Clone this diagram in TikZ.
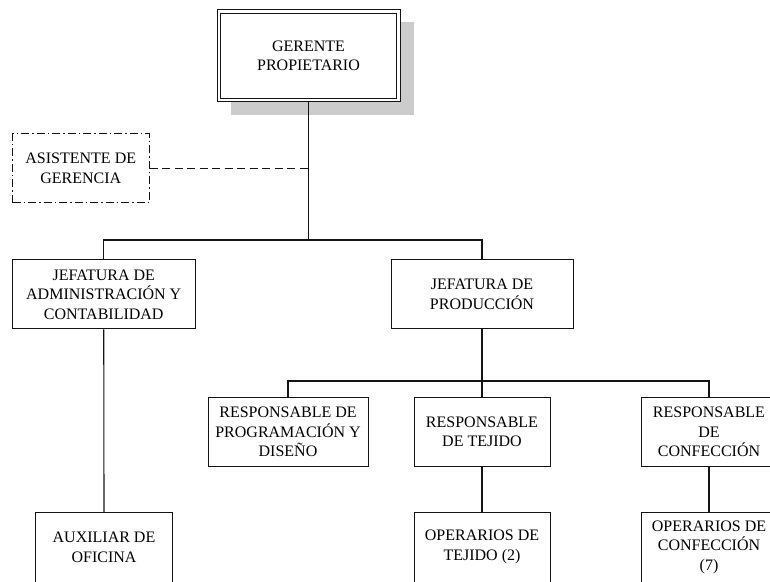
\documentclass[tikz,border=0pt]{standalone}
\usepackage{fontspec}
\setmainfont{Liberation Serif}
\definecolor{shadowgray}{RGB}{204,204,204}
\definecolor{linegray}{RGB}{20,20,20}
\begin{document}
\begin{tikzpicture}[x=1pt,y=1pt,
  orgbox/.style={draw=linegray,line width=1pt,fill=white,inner sep=0pt,
    align=center,font=\fontsize{16}{19.5}\selectfont},
  link/.style={draw=linegray,line width=1.1pt},
  dashlink/.style={draw=linegray,line width=1.1pt,dash pattern=on 8pt off 4.5pt},
  dashdotbox/.style={orgbox,dash pattern=on 8pt off 3pt on 1.5pt off 3pt}]
\useasboundingbox (0,0) rectangle (770,581);
\clip (0,0) rectangle (770,581);

% top box with drop shadow and double frame
\fill[shadowgray] (231,466) rectangle (414,559);
\node[orgbox,minimum width=183pt,minimum height=92pt] (ger) at (308.5,525)
  {GERENTE\\PROPIETARIO};
\draw[linegray,line width=1pt] ([shift={(3.6,-3.6)}]ger.north west)
  rectangle ([shift={(-3.6,3.6)}]ger.south east);

% staff position
\node[dashdotbox,minimum width=136.5pt,minimum height=69pt] (asis) at (80.75,412.5)
  {ASISTENTE DE\\GERENCIA};

% department heads
\node[orgbox,minimum width=182.5pt,minimum height=69pt] (jadm) at (103.75,286.5)
  {JEFATURA DE\\ADMINISTRACIÓN Y\\CONTABILIDAD};
\node[orgbox,minimum width=182pt,minimum height=69pt] (jprod) at (482,286.5)
  {JEFATURA DE\\PRODUCCIÓN};

% production area heads
\node[orgbox,minimum width=160pt,minimum height=68pt] (rprog) at (288,149)
  {RESPONSABLE DE\\PROGRAMACIÓN Y\\DISEÑO};
\node[orgbox,minimum width=136pt,minimum height=68pt] (rtej) at (482,149)
  {RESPONSABLE\\DE TEJIDO};
\node[orgbox,minimum width=135pt,minimum height=68pt] (rconf) at (709,149)
  {RESPONSABLE\\DE\\CONFECCIÓN};

% staff level
\node[orgbox,minimum width=137pt,minimum height=70pt] (aux) at (104,33.5)
  {AUXILIAR DE\\OFICINA};
\node[orgbox,minimum width=136pt,minimum height=70pt] (otej) at (482,34)
  {OPERARIOS DE\\TEJIDO (2)};
\node[orgbox,minimum width=135pt,minimum height=70pt] (oconf) at (709,34)
  {OPERARIOS DE\\CONFECCIÓN\\(7)};

% connectors
\coordinate (bar1) at (308.5,341);
\coordinate (bar2) at (482,200);
\path[link] (ger.south) -- (bar1);
\path[link] (jadm.north) |- (bar1) -| (jprod.north);
\path[dashlink] (asis.east) -- (asis.east -| bar1);
\path[link] (jadm.south) -- (aux.north);
\path[link] (jprod.south) -- (rtej.north);
\path[link] (rprog.north) |- (bar2) -| (rconf.north);
\path[link] (rtej.south) -- (otej.north);
\path[link] (rconf.south) -- (oconf.north);
\end{tikzpicture}
\end{document}
